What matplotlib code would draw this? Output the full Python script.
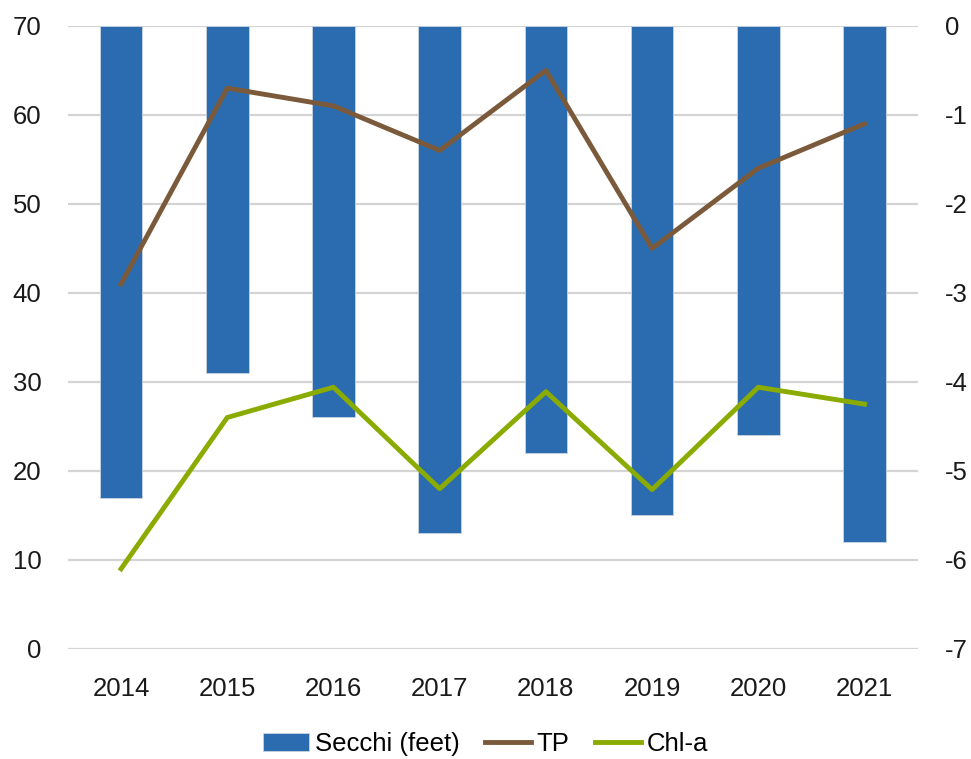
import matplotlib.pyplot as plt

plt.rcParams['font.family'] = ['Liberation Sans', 'DejaVu Sans']
plt.rcParams['axes.unicode_minus'] = False

years = ['2014', '2015', '2016', '2017', '2018', '2019', '2020', '2021']
secchi = [-5.3, -3.9, -4.4, -5.7, -4.8, -5.5, -4.6, -5.8]
tp = [41, 63, 61, 56, 65, 45, 54, 59]
chla = [9, 26, 29.4, 18, 28.9, 17.9, 29.4, 27.5]

fig = plt.figure(figsize=(9.71, 7.59), dpi=100)
ax = fig.add_axes([0.070, 0.145, 0.875, 0.821])

x = range(len(years))
bars = ax.bar(x, secchi, width=0.4, color='#2b6cb0', edgecolor='#c9d3df',
              linewidth=0.6, label='Secchi (feet)', zorder=2)
ax.set_xlim(-0.5, len(years) - 0.5)
ax.set_xticks(list(x))
ax.set_xticklabels(years)
ax.grid(axis='y', color='#d4d4d4', linewidth=1.6, zorder=0)
ax.set_axisbelow(True)

ax2 = ax.twinx()
l1, = ax2.plot(x, tp, color='#7a5a3a', linewidth=3.5, label='TP')
l2, = ax2.plot(x, chla, color='#8aab00', linewidth=3.5, label='Chl-a')
ax2.set_ylim(0, 70)
ax2.set_yticks(range(0, 71, 10))
ax2.yaxis.tick_left()

ax.set_ylim(-7, 0)
ax.set_yticks(range(-7, 1))
ax.yaxis.tick_right()

for a in (ax, ax2):
    for s in a.spines.values():
        s.set_visible(False)
    a.tick_params(length=0, labelsize=18.5, colors='#1a1a1a')
ax.tick_params(axis='x', pad=20)
ax.tick_params(axis='y', pad=20)
ax2.tick_params(axis='y', pad=19)

fig.legend([bars, l1, l2], ['Secchi (feet)', 'TP', 'Chl-a'], loc='lower center',
           bbox_to_anchor=(0.5, -0.026), ncol=3, frameon=False, fontsize=18.5,
           handlelength=1.8, handletextpad=0.2, columnspacing=1.0)

fig.savefig('out.png', dpi=100)
